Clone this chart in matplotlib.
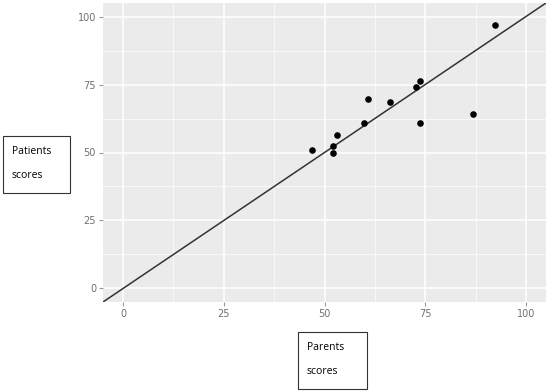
import matplotlib
matplotlib.use("Agg")
import matplotlib.pyplot as plt
from matplotlib.patches import Rectangle
from matplotlib.ticker import MultipleLocator

# parents vs patients scores
parents = [46.8, 52.2, 52.2, 53.2, 59.8, 60.9, 66.3, 72.8, 73.8, 73.8, 86.9, 92.3]
patients = [51.1, 52.3, 50.0, 56.5, 60.9, 69.6, 68.5, 74.0, 76.2, 60.9, 64.1, 96.8]
ticks = [0, 25, 50, 75, 100]

W, H = 550, 392
fig = plt.figure(figsize=(5.5, 3.92), dpi=100)
ax = fig.add_axes([103 / W, 1 - 302 / H, (546 - 103) / W, (302 - 3) / H])
ax.set_facecolor("#EBEBEB")
for s in ax.spines.values():
    s.set_visible(False)

ax.set_xlim(-5, 105)
ax.set_ylim(-5, 105)
ax.set_xticks(ticks)
ax.set_yticks(ticks)
ax.xaxis.set_minor_locator(MultipleLocator(12.5))
ax.yaxis.set_minor_locator(MultipleLocator(12.5))
ax.grid(True, which="major", color="white", lw=1.1)
ax.grid(True, which="minor", color="white", lw=0.5)
ax.set_axisbelow(True)
ax.tick_params(which="major", length=3, color="#999999", labelsize=7, labelcolor="#707070", pad=2)
ax.tick_params(which="minor", length=0)

ax.axline((0, 0), slope=1, color="#333333", lw=1.1)
ax.scatter(parents, patients, s=14, color="black", zorder=3)

# boxed axis labels
def label_box(x0, y0, x1, y1, lines):
    fig.add_artist(Rectangle((x0 / W, 1 - y1 / H), (x1 - x0) / W, (y1 - y0) / H,
                             transform=fig.transFigure, fill=False, ec="#333333", lw=0.8))
    for i, t in enumerate(lines):
        fig.text((x0 + 9) / W, 1 - (y0 + 15 + i * 24) / H, t, fontsize=7.5,
                 family="Open Sans", va="center", ha="left", color="black")

label_box(3, 136, 70, 193, ["Patients", "scores"])
label_box(298, 332, 367, 389, ["Parents", "scores"])

fig.savefig("out.png", dpi=100)
